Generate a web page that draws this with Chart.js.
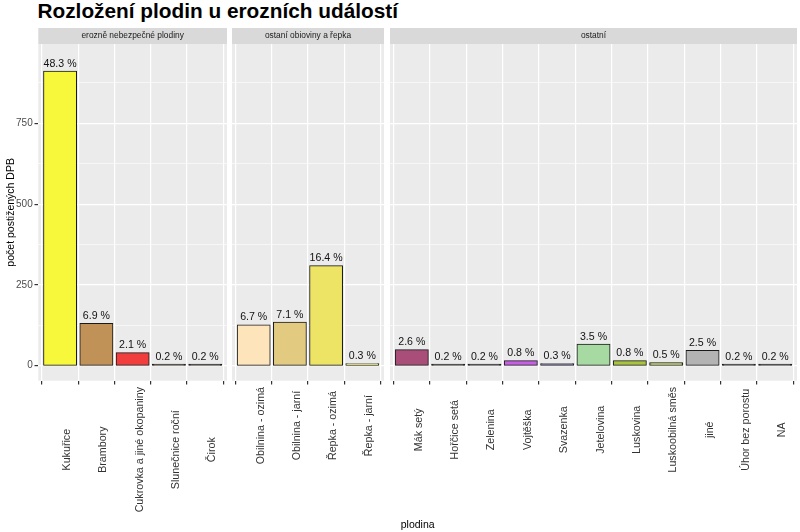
<!DOCTYPE html>
<html>
<head>
<meta charset="utf-8">
<script src="https://cdn.jsdelivr.net/npm/chart.js@4/dist/chart.umd.min.js"></script>
<style>
  html, body { margin: 0; padding: 0; background: #ffffff; }
  body { width: 800px; height: 532px; position: relative; overflow: hidden; font-family: "Liberation Sans", Arial, sans-serif; }
  canvas { position: absolute; top: 28px; }
  #title { position: absolute; left: 37.5px; top: 1.4px; font-size: 20.8px; line-height: 20.8px; font-weight: bold; color: #000; white-space: nowrap; }
  #xtitle { position: absolute; left: 317.7px; width: 200px; top: 518.8px; font-size: 10.5px; line-height: 10.5px; text-align: center; color: #000; }
</style>
</head>
<body>
<div id="title">Rozložení plodin u erozních událostí</div>
<canvas id="c1" width="227" height="504" style="left:0px"></canvas>
<canvas id="c2" width="152" height="504" style="left:232px"></canvas>
<canvas id="c3" width="407" height="504" style="left:390px"></canvas>
<div id="xtitle">plodina</div>
<script>
// ---- data ----
const stripLabels = ['erozně nebezpečné plodiny', 'ostaní obioviny a řepka', 'ostatní'];

const cats1 = ['Kukuřice', 'Brambory', 'Cukrovka a jiné okopaniny', 'Slunečnice roční', 'Čirok'];
const counts1 = [911, 130, 40, 4, 4];
const pcts1 = ['48.3 %', '6.9 %', '2.1 %', '0.2 %', '0.2 %'];
const colors1 = ['#f7f73c', '#c19258', '#f23d3d', '#3a3326', '#2e2a26'];

const cats2 = ['Obilnina - ozimá', 'Obilnina - jarní', 'Řepka - ozimá', 'Řepka - jarní'];
const counts2 = [126, 134, 309, 6];
const pcts2 = ['6.7 %', '7.1 %', '16.4 %', '0.3 %'];
const colors2 = ['#fde4bb', '#e2cb80', '#ede365', '#d8d27a'];

const cats3 = ['Mák setý', 'Hořčice setá', 'Zelenina', 'Vojtěška', 'Svazenka', 'Jetelovina', 'Luskovina', 'Luskoobilná směs', 'jiné', 'Úhor bez porostu', 'NA'];
const counts3 = [49, 4, 4, 15, 6, 66, 15, 9, 47, 4, 4];
const pcts3 = ['2.6 %', '0.2 %', '0.2 %', '0.8 %', '0.3 %', '3.5 %', '0.8 %', '0.5 %', '2.5 %', '0.2 %', '0.2 %'];
const colors3 = ['#a84e79', '#33302a', '#2c302c', '#c65ee6', '#6e6a8a', '#a6daa2', '#a8c43b', '#b0c25e', '#b3b3b3', '#333333', '#2e2e2e'];

const yTicks = [0, 125, 250, 375, 500, 625, 750, 875];
const yMajorStep = 250;
const yTitle = 'počet postižených DPB';

// ---- style / layout ----
const FONT = '"Liberation Sans", Arial, sans-serif';
const STRIP_H = 16;
const AXIS_H = 151.3;
const Y_AXIS_W = 38.3;
const Y_MIN = -46.4, Y_MAX = 995.4;
const TICK_LEN = 3.8;

const facetPlugin = {
  id: 'facet',
  beforeDraw(chart, args, opts) {
    const { ctx, chartArea: a } = chart;
    ctx.save();
    ctx.fillStyle = '#ebebeb';
    ctx.fillRect(a.left, a.top, a.right - a.left, a.bottom - a.top);
    ctx.fillStyle = '#d9d9d9';
    ctx.fillRect(a.left, a.top - STRIP_H, a.right - a.left, STRIP_H);
    ctx.fillStyle = '#1a1a1a';
    ctx.font = '8.4px ' + FONT;
    ctx.textAlign = 'center';
    ctx.textBaseline = 'middle';
    ctx.fillText(opts.strip, (a.left + a.right) / 2, a.top - STRIP_H / 2);
    ctx.restore();
  },
  afterDatasetsDraw(chart, args, opts) {
    const { ctx } = chart;
    const meta = chart.getDatasetMeta(0);
    ctx.save();
    ctx.fillStyle = '#111111';
    ctx.font = '10.6px ' + FONT;
    ctx.textAlign = 'center';
    ctx.textBaseline = 'alphabetic';
    meta.data.forEach((bar, i) => {
      ctx.fillText(opts.pcts[i], bar.x, bar.y - 4.5);
    });
    ctx.restore();
  },
  afterDraw(chart, args, opts) {
    const { ctx, chartArea: a } = chart;
    const xs = chart.scales.x;
    ctx.save();
    ctx.font = '10.7px ' + FONT;
    ctx.fillStyle = '#333333';
    let maxW = 0;
    opts.cats.forEach(c => { maxW = Math.max(maxW, ctx.measureText(c).width); });
    const cy = a.bottom + 6.3 + maxW / 2;
    ctx.textAlign = 'center';
    ctx.textBaseline = 'alphabetic';
    opts.cats.forEach((c, i) => {
      const x = xs.getPixelForValue(i);
      ctx.save();
      ctx.translate(x + 10, cy);
      ctx.rotate(-Math.PI / 2);
      ctx.fillText(c, 0, 0);
      ctx.restore();
    });
    ctx.restore();
  }
};

function makePanel(id, cats, counts, pcts, colors, strip, isFirst) {
  const n = cats.length;
  return new Chart(document.getElementById(id), {
    type: 'bar',
    data: {
      datasets: [{
        data: counts.map((v, i) => ({ x: i, y: v })),
        backgroundColor: colors,
        borderColor: '#1a1a1a',
        borderWidth: 1,
        borderSkipped: false,
        inflateAmount: 0.6,
        barPercentage: 0.9,
        categoryPercentage: 1.0
      }]
    },
    options: {
      responsive: false,
      animation: false,
      events: [],
      layout: { padding: { top: STRIP_H, left: 0, right: 0, bottom: 0 } },
      plugins: {
        legend: { display: false },
        tooltip: { enabled: false },
        facet: { strip: strip, pcts: pcts, cats: cats }
      },
      scales: {
        x: {
          type: 'linear',
          min: -0.6,
          max: n - 1 + 0.6,
          offset: false,
          afterBuildTicks: s => { s.ticks = cats.map((c, i) => ({ value: i })); },
          afterFit: s => { s.height = AXIS_H; },
          ticks: { display: false },
          border: { display: false },
          grid: { color: '#ffffff', lineWidth: 1.2, drawTicks: true, tickLength: TICK_LEN, tickColor: '#333333', tickWidth: 1.2 }
        },
        y: {
          type: 'linear',
          min: Y_MIN,
          max: Y_MAX,
          afterBuildTicks: s => { s.ticks = yTicks.map(v => ({ value: v })); },
          afterFit: s => { s.width = isFirst ? Y_AXIS_W : 0; },
          border: { display: false },
          title: {
            display: isFirst,
            text: yTitle,
            color: '#000000',
            font: { family: FONT, size: 10.5 },
            padding: { top: 4.5, bottom: 0 }
          },
          ticks: {
            display: isFirst,
            color: '#4d4d4d',
            font: { family: FONT, size: 10 },
            padding: 1.8,
            callback: v => (v % yMajorStep === 0 ? String(v) : '')
          },
          grid: {
            color: '#ffffff',
            lineWidth: c => (c.tick && c.tick.value % yMajorStep === 0 ? 1.2 : 0.6),
            drawTicks: isFirst,
            tickLength: TICK_LEN,
            tickWidth: 1.2,
            tickColor: c => (c.tick && c.tick.value % yMajorStep === 0 ? '#333333' : 'rgba(0,0,0,0)')
          }
        }
      }
    },
    plugins: [facetPlugin]
  });
}

makePanel('c1', cats1, counts1, pcts1, colors1, stripLabels[0], true);
makePanel('c2', cats2, counts2, pcts2, colors2, stripLabels[1], false);
makePanel('c3', cats3, counts3, pcts3, colors3, stripLabels[2], false);
</script>
</body>
</html>
